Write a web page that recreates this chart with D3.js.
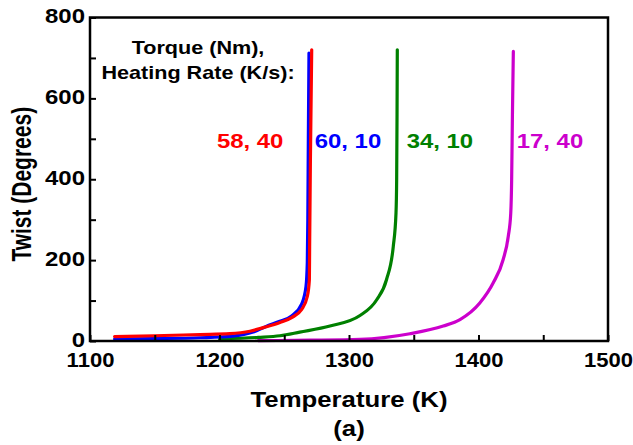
<!DOCTYPE html>
<html>
<head>
<meta charset="utf-8">
<script src="https://cdnjs.cloudflare.com/ajax/libs/d3/7.8.5/d3.min.js"></script>
<style>
  body { margin: 0; background: #fff; }
  text { font-family: "Liberation Sans", Arial, sans-serif; font-weight: bold; }
</style>
</head>
<body>
<div id="chart"></div>
<script>
// series: torque (Nm), heating rate (K/s)
const seriesNames = ["58, 40", "60, 10", "34, 10", "17, 40"];
const seriesColors = ["#ff0000", "#0000ff", "#008000", "#cc00cc"];

const redTemp = [1119, 1150, 1185, 1208, 1223.5, 1233.6, 1246.7, 1255.7, 1263.5, 1267.8, 1269.4, 1269.6, 1270.2, 1271.2];
const redTwist = [11, 13, 16, 18, 24, 33, 46, 58, 78, 110, 152, 234, 450, 720];

const blueTemp = [1119, 1150, 1185, 1210, 1226, 1236, 1246, 1255.7, 1263.5, 1266.8, 1267.8, 1268.2, 1268.6, 1269.1];
const blueTwist = [5, 6, 8, 12, 22, 36, 48, 62, 92, 135, 194, 300, 500, 712];

const greenTemp = [1200, 1230, 1246.7, 1262, 1285.3, 1308.5, 1321.4, 1329, 1334.2, 1336.3, 1336.8, 1337.1, 1337.3];
const greenTwist = [5, 9, 13, 22, 37, 63, 102, 152, 234, 317, 399, 560, 720];

const magentaTemp = [1230, 1270, 1308.5, 1347, 1372.8, 1385.7, 1401, 1411.4, 1419, 1423, 1424.9, 1425.6, 1426.2, 1426.9];
const magentaTwist = [1, 2, 4, 18, 37, 53, 94, 144, 201, 259, 316, 399, 560, 716];

// where the series labels sit (data units: start temperature, twist at baseline)
const labelTemp = [1198, 1273.5, 1344.5, 1429.5];
const labelTwist = 477;

const legendLines = ["Torque (Nm),", "Heating Rate (K/s):"];
const xTicks = [1100, 1200, 1300, 1400, 1500];
const yTicks = [0, 200, 400, 600, 800];

const width = 633, height = 445;
const margin = { top: 17.5, right: 25, bottom: 104, left: 90 };
const stretch = 1.2; // the source figure is wider than tall

const svg = d3.select("#chart").append("svg")
  .attr("width", width)
  .attr("height", height);

const x = d3.scaleLinear().domain([1100, 1500]).range([margin.left, width - margin.right]);
const y = d3.scaleLinear().domain([0, 800]).range([height - margin.bottom, margin.top]);

// curves, drawn so red ends on top
const series = [
  { t: greenTemp, v: greenTwist, c: seriesColors[2] },
  { t: magentaTemp, v: magentaTwist, c: seriesColors[3] },
  { t: blueTemp, v: blueTwist, c: seriesColors[1] },
  { t: redTemp, v: redTwist, c: seriesColors[0] }
];

const line = d3.line()
  .x(d => x(d[0]))
  .y(d => y(d[1]))
  .curve(d3.curveMonotoneX);

series.forEach(s => {
  svg.append("path")
    .datum(s.t.map((t, i) => [t, s.v[i]]))
    .attr("d", line)
    .attr("fill", "none")
    .attr("stroke", s.c)
    .attr("stroke-width", 3.2)
    .attr("stroke-linejoin", "round")
    .attr("stroke-linecap", "round");
});

// axes with inward ticks
const xAxis = svg.append("g")
  .attr("transform", `translate(0,${y(0)})`)
  .call(d3.axisBottom(x).tickValues(d3.range(1100, 1501, 50)).tickSize(-6)
    .tickFormat(d => xTicks.includes(d) ? d : ""));
xAxis.select(".domain").remove();
xAxis.selectAll("line").attr("stroke", "#000").attr("stroke-width", 2);
xAxis.selectAll("text")
  .attr("y", 26).attr("dy", null)
  .attr("font-size", 21)
  .attr("fill", "#000")
  .attr("transform", "scale(1.05,1)");

const yAxis = svg.append("g")
  .attr("transform", `translate(${x(1100)},0)`)
  .call(d3.axisLeft(y).tickValues(d3.range(0, 801, 100)).tickSize(-6)
    .tickFormat(d => yTicks.includes(d) ? d : ""));
yAxis.select(".domain").remove();
yAxis.selectAll("line").attr("stroke", "#000").attr("stroke-width", 2);
yAxis.selectAll("text")
  .attr("x", -5 / stretch).attr("dy", "0.25em")
  .attr("font-size", 20)
  .attr("fill", "#000")
  .attr("transform", `scale(${stretch},1)`);

// frame
svg.append("rect")
  .attr("x", x(1100)).attr("y", y(800))
  .attr("width", x(1500) - x(1100)).attr("height", y(0) - y(800))
  .attr("fill", "none").attr("stroke", "#000").attr("stroke-width", 2.5);

// series labels
seriesNames.forEach((name, i) => {
  svg.append("text")
    .attr("transform", `translate(${x(labelTemp[i])},${y(labelTwist)}) scale(${stretch * 0.95},1)`)
    .attr("font-size", 21)
    .attr("fill", seriesColors[i])
    .text(name);
});

// legend heading
legendLines.forEach((txt, i) => {
  svg.append("text")
    .attr("transform", `translate(${x(1183.4)},${54 + i * 25}) scale(${stretch},1)`)
    .attr("text-anchor", "middle")
    .attr("font-size", 18)
    .attr("fill", "#000")
    .text(txt);
});

// axis titles
svg.append("text")
  .attr("transform", `translate(${(x(1100) + x(1500)) / 2},407) scale(1.12,1)`)
  .attr("text-anchor", "middle")
  .attr("font-size", 23)
  .text("Temperature (K)");

svg.append("text")
  .attr("transform", `translate(${(x(1100) + x(1500)) / 2},436) scale(1.12,1)`)
  .attr("text-anchor", "middle")
  .attr("font-size", 23)
  .text("(a)");

svg.append("text")
  .attr("transform", `translate(31,${(y(0) + y(800)) / 2 + 5}) rotate(-90) scale(1,1.3)`)
  .attr("text-anchor", "middle")
  .attr("font-size", 21)
  .text("Twist (Degrees)");
</script>
</body>
</html>
